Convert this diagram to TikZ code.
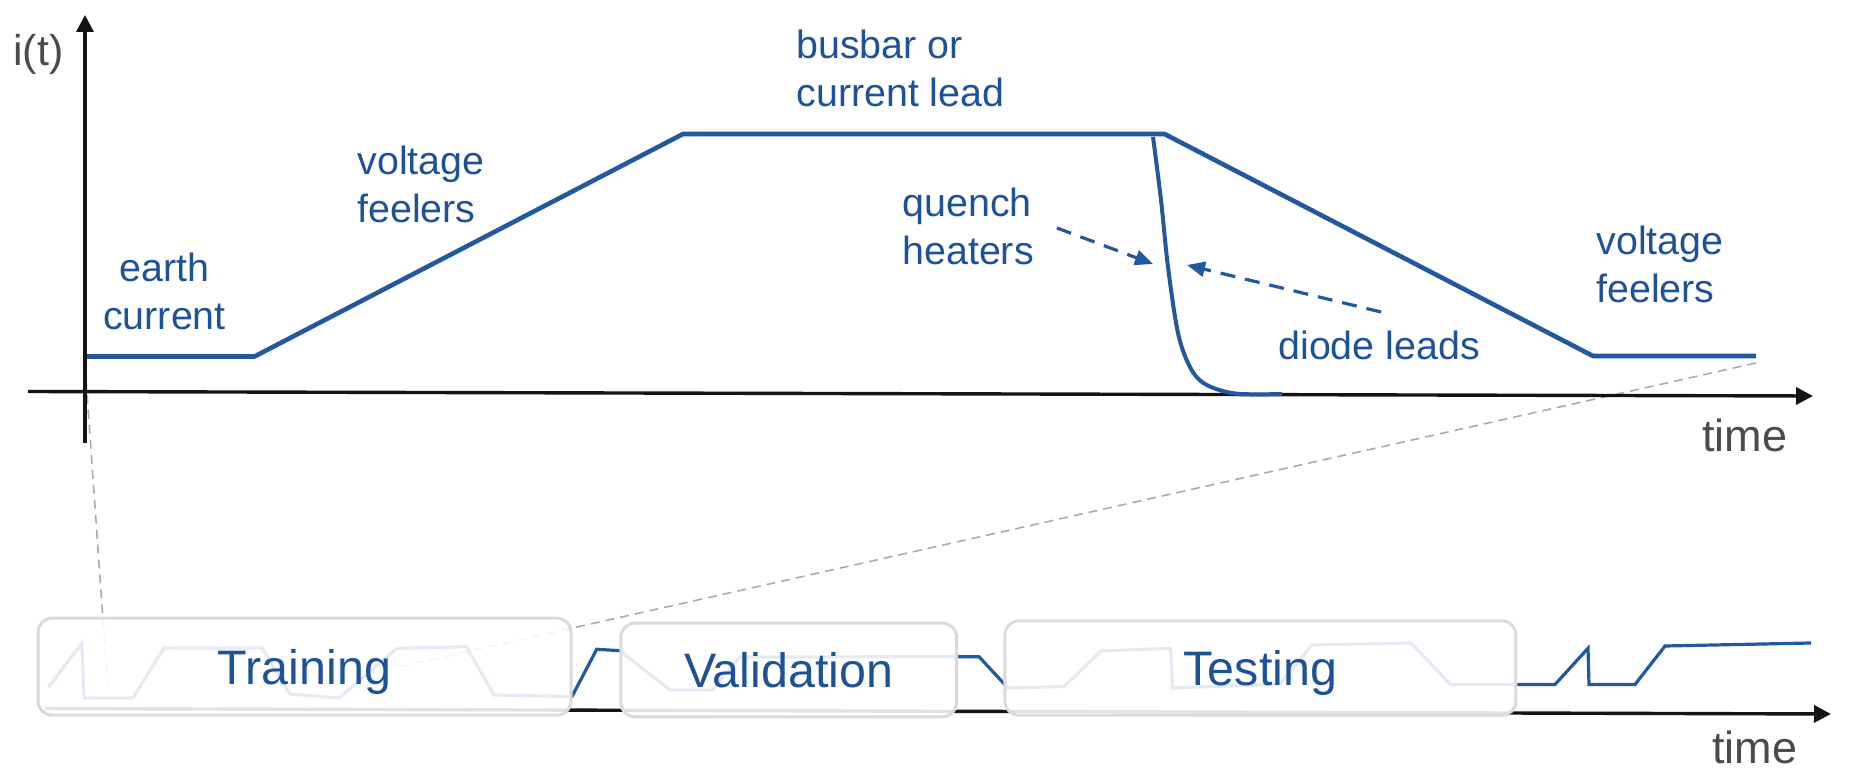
\documentclass[tikz,border=0pt]{standalone}
\usepackage{fontspec}
\setmainfont{Liberation Sans}
\usetikzlibrary{arrows.meta}
\definecolor{cblue}{RGB}{34,88,158}
\definecolor{tblue}{RGB}{30,82,152}
\definecolor{axgrey}{RGB}{75,75,75}
\definecolor{zoomgrey}{RGB}{170,170,170}
\definecolor{boxgrey}{RGB}{218,218,218}
\begin{document}
\begin{tikzpicture}[x=0.5pt,y=-0.5pt,
  axisline/.style={line width=1.7pt, black!92, -{Triangle[length=8.5pt,width=8.5pt]}},
  curve/.style={cblue, line width=2.3pt, line join=miter},
  qcurve/.style={cblue, line width=2pt},
  darrow/.style={cblue, line width=1.6pt, dash pattern=on 7.5pt off 5pt, -{Triangle[length=9pt,width=7.5pt]}},
  zoomline/.style={zoomgrey, line width=0.8pt, dash pattern=on 4.5pt off 3pt},
  sigline/.style={cblue, line width=1.6pt, line join=miter},
  lbl/.style={text=tblue, font=\fontsize{19.7pt}{24pt}\selectfont, inner sep=0pt, align=left, anchor=base west},
  axlbl/.style={text=axgrey, inner sep=0pt, anchor=base west},
  databox/.style={draw=boxgrey, line width=1.5pt, rounded corners=7pt, fill=white, fill opacity=0.88, text opacity=1,
    text=tblue, font=\fontsize{24.2pt}{29pt}\selectfont, text height=17.5pt, text depth=0pt, inner sep=0pt}
]
\useasboundingbox (0,0) rectangle (1854,780);

% ---------- coordinates ----------
\coordinate (ybot) at (85,443);
\coordinate (ytop) at (85,15);
\coordinate (xleft) at (28,391.5);
\coordinate (xright) at (1813,396);
\coordinate (p0) at (87,356.5);
\coordinate (p1) at (254.5,356.5);
\coordinate (p2) at (683,134);
\coordinate (p3) at (1164.5,134);
\coordinate (p4) at (1593,356);
\coordinate (p5) at (1756,356);
\coordinate (zla) at (85,365);
\coordinate (zlb) at (108,690);
\coordinate (zra) at (1756,363);
\coordinate (zrb) at (394,668);
\coordinate (bxl) at (45,708.5);
\coordinate (bxr) at (1831,714);
\coordinate (qa) at (1057,228);
\coordinate (qb) at (1153,264);
\coordinate (da) at (1381,312);
\coordinate (db) at (1187,265);

% ---------- zoom lines ----------
\draw[zoomline] (zla) -- (zlb);
\draw[zoomline] (zra) -- (zrb);

% ---------- bottom time axis and signal ----------
\draw[axisline] (bxl) -- (bxr);
\draw[sigline] (48.5,687) -- (81.8,643.3) -- (84,698) -- (133,698) -- (164,648) -- (262,648)
  -- (290,694) -- (339,698) -- (397,648.3) -- (466.5,646.7) -- (494,695) -- (572,696.5)
  -- (596.7,649.3) -- (620,650.7) -- (670,690) -- (712,690) -- (740,657) -- (979,656.7)
  -- (1008,688) -- (1064,686.5) -- (1101,651) -- (1170.7,648.3) -- (1172.6,688) -- (1280,684)
  -- (1312,645) -- (1411,643) -- (1450.6,684.5) -- (1555,684.5) -- (1588,648.3) -- (1589,684.5)
  -- (1635,684.5) -- (1665,646) -- (1811,643);

% ---------- data split boxes ----------
\node[databox, minimum width=266.5pt, minimum height=48.5pt] (train) at (304.5,666.7) {Training};
\node[databox, minimum width=167.9pt, minimum height=46.8pt] (valid) at (788.7,670) {Validation};
\node[databox, minimum width=255.5pt, minimum height=47.2pt] (test) at (1260.4,668) {Testing};
\node[axlbl, font=\fontsize{22.5pt}{27pt}\selectfont] (tbot) at (1712,763) {time};

% ---------- top axes ----------
\draw[axisline] (ybot) -- (ytop);
\draw[axisline] (xleft) -- (xright);
\node[axlbl, font=\fontsize{21.5pt}{26pt}\selectfont] (it) at (13,66) {i(t)};
\node[axlbl, font=\fontsize{22.5pt}{27pt}\selectfont] (ttop) at (1702,452) {time};

% ---------- current profile ----------
\draw[curve] (p0) -- (p1) -- (p2) -- (p3) -- (p4) -- (p5);
\draw[qcurve] plot[smooth, tension=0.55] coordinates {(1153,137) (1161,200) (1168,267) (1178,333) (1190,367) (1205,384) (1235,393.5) (1282,394)};

% ---------- dashed arrows ----------
\draw[darrow] (qa) -- (qb);
\draw[darrow] (da) -- (db);

% ---------- labels (anchor = baseline of the last line) ----------
\node[lbl, align=center, anchor=base] (earth) at (164.5,330) {earth\\current};
\node[lbl] (vfl) at (357,223) {voltage\\feelers};
\node[lbl] (busbar) at (796,107) {busbar or\\current lead};
\node[lbl] (quench) at (902,265) {quench\\heaters};
\node[lbl] (vfr) at (1596,303) {voltage\\feelers};
\node[lbl] (diode) at (1278,360) {diode leads};
\end{tikzpicture}
\end{document}
